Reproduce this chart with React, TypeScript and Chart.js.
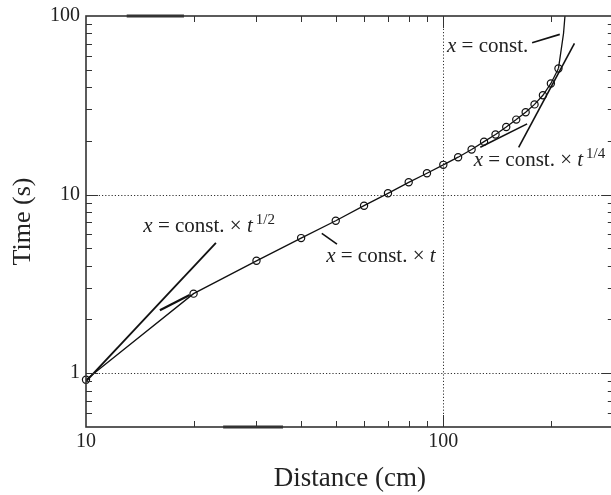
import React, { useEffect, useRef } from 'react';
import { Chart, registerables } from 'chart.js';

Chart.register(...registerables);

// ---- data ----
const distance = [10, 20, 30, 40, 50, 60, 70, 80, 90, 100, 110, 120, 130, 140, 150, 160, 170, 180, 190, 200, 210];
const time = [0.92, 2.79, 4.26, 5.71, 7.14, 8.67, 10.17, 11.72, 13.17, 14.68, 16.2, 17.9, 19.8, 21.7, 23.9, 26.3, 28.9, 32.0, 36.0, 41.9, 50.8];
const tailDistance = [210, 217, 219];
const tailTime = [50.8, 80, 100];

const halfFitX = [10, 23.1];
const halfFitY = [0.9, 5.37];
const linearShortX = [16.1, 19.5];
const linearShortY = [2.25, 2.74];
const linearFitX = [126.9, 171.6];
const linearFitY = [18.4, 24.9];
const quarterFitX = [162.5, 232.8];
const quarterFitY = [18.4, 70.3];
const constLeaderX = [177.2, 211.8];
const constLeaderY = [70.8, 78.9];
const linearLeaderX = [45.7, 50.4];
const linearLeaderY = [6.06, 5.28];

// ---- axes ----
const xTickLabels = [10, 100];
const yTickLabels = [1, 10, 100];
const xMinorTicks = [20, 30, 40, 50, 60, 70, 80, 90, 200];
const yMinorTicks = [0.6, 0.7, 0.8, 0.9, 2, 3, 4, 5, 6, 7, 8, 9, 20, 30, 40, 50, 60, 70, 80, 90];
const xGridValues = [100];
const yGridValues = [1, 10];
const topThick = [13.0, 18.8];
const bottomThick = [24.2, 35.6];

// ---- annotation labels (anchored in data coordinates) ----
const labelHalfAt = [14.47, 6.14];
const labelLinearAt = [47.0, 4.2];
const labelConstAt = [102.4, 63.0];
const labelQuarterAt = [121.6, 14.55];

const FONT = '"Liberation Serif", "Times New Roman", serif';
const INK = '#222';

const pts = (xs: number[], ys: number[]) => xs.map((x, i) => ({ x, y: ys[i] }));

const near = (v: number, list: number[]) => list.some((l) => Math.abs(v - l) < 1e-6 * l);

function drawLabel(ctx: CanvasRenderingContext2D, px: number, py: number, withTimes: boolean, sup: string) {
  let cx = px;
  ctx.textBaseline = 'alphabetic';
  ctx.textAlign = 'left';
  ctx.fillStyle = INK;
  ctx.font = `italic 21px ${FONT}`;
  ctx.fillText('x', cx, py);
  cx += ctx.measureText('x').width;
  ctx.font = `21px ${FONT}`;
  const mid = withTimes ? ' = const. \u00d7 ' : ' = const.';
  ctx.fillText(mid, cx, py);
  cx += ctx.measureText(mid).width;
  if (withTimes) {
    ctx.font = `italic 21px ${FONT}`;
    ctx.fillText('t', cx, py);
    cx += ctx.measureText('t').width;
    if (sup) {
      ctx.font = `15px ${FONT}`;
      ctx.fillText(sup, cx + 3, py - 8);
    }
  }
}

const decorPlugin = {
  id: 'decor',
  beforeDatasetsDraw(chart: any) {
    const { ctx, chartArea: a, scales } = chart;
    const x = scales.x;
    const y = scales.y;
    ctx.save();
    ctx.strokeStyle = '#333';
    ctx.lineWidth = 1;
    ctx.setLineDash([1.2, 2]);
    for (const v of xGridValues) {
      const px = Math.round(x.getPixelForValue(v)) + 0.5;
      ctx.beginPath();
      ctx.moveTo(px, a.top);
      ctx.lineTo(px, a.bottom);
      ctx.stroke();
    }
    for (const v of yGridValues) {
      const py = Math.round(y.getPixelForValue(v)) + 0.5;
      ctx.beginPath();
      ctx.moveTo(a.left, py);
      ctx.lineTo(a.right, py);
      ctx.stroke();
    }
    ctx.restore();
  },
  afterDatasetsDraw(chart: any) {
    const { ctx, chartArea: a, scales } = chart;
    const x = scales.x;
    const y = scales.y;
    ctx.save();
    ctx.setLineDash([]);
    ctx.strokeStyle = '#333';
    ctx.lineWidth = 1;
    const tickX = (v: number, len: number) => {
      const px = Math.round(x.getPixelForValue(v)) + 0.5;
      if (px <= a.left + 1 || px >= a.right - 1) return;
      ctx.beginPath();
      ctx.moveTo(px, a.bottom);
      ctx.lineTo(px, a.bottom - len);
      ctx.moveTo(px, a.top);
      ctx.lineTo(px, a.top + len);
      ctx.stroke();
    };
    const tickY = (v: number, len: number) => {
      const py = Math.round(y.getPixelForValue(v)) + 0.5;
      if (py <= a.top + 1 || py >= a.bottom - 1) return;
      ctx.beginPath();
      ctx.moveTo(a.left, py);
      ctx.lineTo(a.left + len, py);
      ctx.moveTo(a.right, py);
      ctx.lineTo(a.right - len, py);
      ctx.stroke();
    };
    xMinorTicks.forEach((v) => tickX(v, 6));
    xTickLabels.forEach((v) => tickX(v, 12));
    yMinorTicks.forEach((v) => tickY(v, 6));
    yTickLabels.forEach((v) => tickY(v, 12));
    // frame
    ctx.lineWidth = 1.6;
    ctx.strokeRect(a.left, a.top, a.right - a.left, a.bottom - a.top);
    ctx.lineWidth = 3;
    ctx.beginPath();
    ctx.moveTo(x.getPixelForValue(topThick[0]), a.top);
    ctx.lineTo(x.getPixelForValue(topThick[1]), a.top);
    ctx.moveTo(x.getPixelForValue(bottomThick[0]), a.bottom);
    ctx.lineTo(x.getPixelForValue(bottomThick[1]), a.bottom);
    ctx.stroke();
    // labels
    drawLabel(ctx, x.getPixelForValue(labelHalfAt[0]), y.getPixelForValue(labelHalfAt[1]), true, '1/2');
    drawLabel(ctx, x.getPixelForValue(labelLinearAt[0]), y.getPixelForValue(labelLinearAt[1]), true, '');
    drawLabel(ctx, x.getPixelForValue(labelConstAt[0]), y.getPixelForValue(labelConstAt[1]), false, '');
    drawLabel(ctx, x.getPixelForValue(labelQuarterAt[0]), y.getPixelForValue(labelQuarterAt[1]), true, '1/4');
    ctx.restore();
  },
};

const lineDs = (data: { x: number; y: number }[], width: number) => ({
  data,
  showLine: true,
  borderColor: '#111',
  borderWidth: width,
  pointRadius: 0,
  pointHoverRadius: 0,
  fill: false,
});

export default function App() {
  const ref = useRef<HTMLCanvasElement | null>(null);
  useEffect(() => {
    if (!ref.current) return;
    const chart = new Chart(ref.current, {
      type: 'scatter',
      data: {
        datasets: [
          lineDs(pts(halfFitX, halfFitY), 1.8),
          lineDs(pts(linearShortX, linearShortY), 2.2),
          lineDs(pts(linearFitX, linearFitY), 1.6),
          lineDs(pts(quarterFitX, quarterFitY), 1.6),
          lineDs(pts(constLeaderX, constLeaderY), 1.6),
          lineDs(pts(linearLeaderX, linearLeaderY), 1.6),
          lineDs(pts(tailDistance, tailTime), 1.3),
          {
            data: pts(distance, time),
            showLine: true,
            clip: false,
            borderColor: '#111',
            borderWidth: 1.3,
            pointRadius: 3.6,
            pointBorderWidth: 1.2,
            pointBorderColor: '#111',
            pointBackgroundColor: 'rgba(0,0,0,0)',
            fill: false,
          },
        ],
      } as any,
      options: {
        animation: false,
        responsive: true,
        maintainAspectRatio: false,
        layout: { padding: { top: 16, right: 0, bottom: 0, left: 0 } },
        plugins: { legend: { display: false }, tooltip: { enabled: false } },
        scales: {
          x: {
            type: 'logarithmic',
            min: 10,
            max: 300,
            position: 'bottom',
            grid: { display: false, drawTicks: false },
            border: { display: false },
            ticks: {
              autoSkip: false,
              maxRotation: 0,
              padding: 3,
              color: INK,
              font: { family: FONT, size: 20 },
              callback: (v: any) => (near(Number(v), xTickLabels) ? String(Math.round(Number(v))) : ''),
            },
            title: {
              display: true,
              text: 'Distance (cm)',
              color: INK,
              font: { family: FONT, size: 27 },
              padding: { top: 0, bottom: 0 },
            },
            afterFit: (s: any) => {
              s.height = 68;
              s.paddingLeft = 0;
              s.paddingRight = 0;
            },
          },
          y: {
            type: 'logarithmic',
            min: 0.5,
            max: 100,
            position: 'left',
            grid: { display: false, drawTicks: false },
            border: { display: false },
            ticks: {
              autoSkip: false,
              padding: 6,
              color: INK,
              font: { family: FONT, size: 20 },
              callback: (v: any) => (near(Number(v), yTickLabels) ? String(Math.round(Number(v))) : ''),
            },
            title: {
              display: true,
              text: 'Time (s)',
              color: INK,
              font: { family: FONT, size: 26 },
              padding: { top: 8, bottom: 0 },
            },
            afterFit: (s: any) => {
              s.width = 86;
              s.paddingTop = 0;
              s.paddingBottom = 0;
            },
          },
        },
      } as any,
      plugins: [decorPlugin],
    });
    return () => chart.destroy();
  }, []);

  return (
    <div style={{ position: 'fixed', left: 0, top: 0, width: 611, height: 495, overflow: 'hidden', background: '#fff' }}>
      <div style={{ position: 'relative', width: 619, height: 495 }}>
        <canvas ref={ref} />
      </div>
    </div>
  );
}
